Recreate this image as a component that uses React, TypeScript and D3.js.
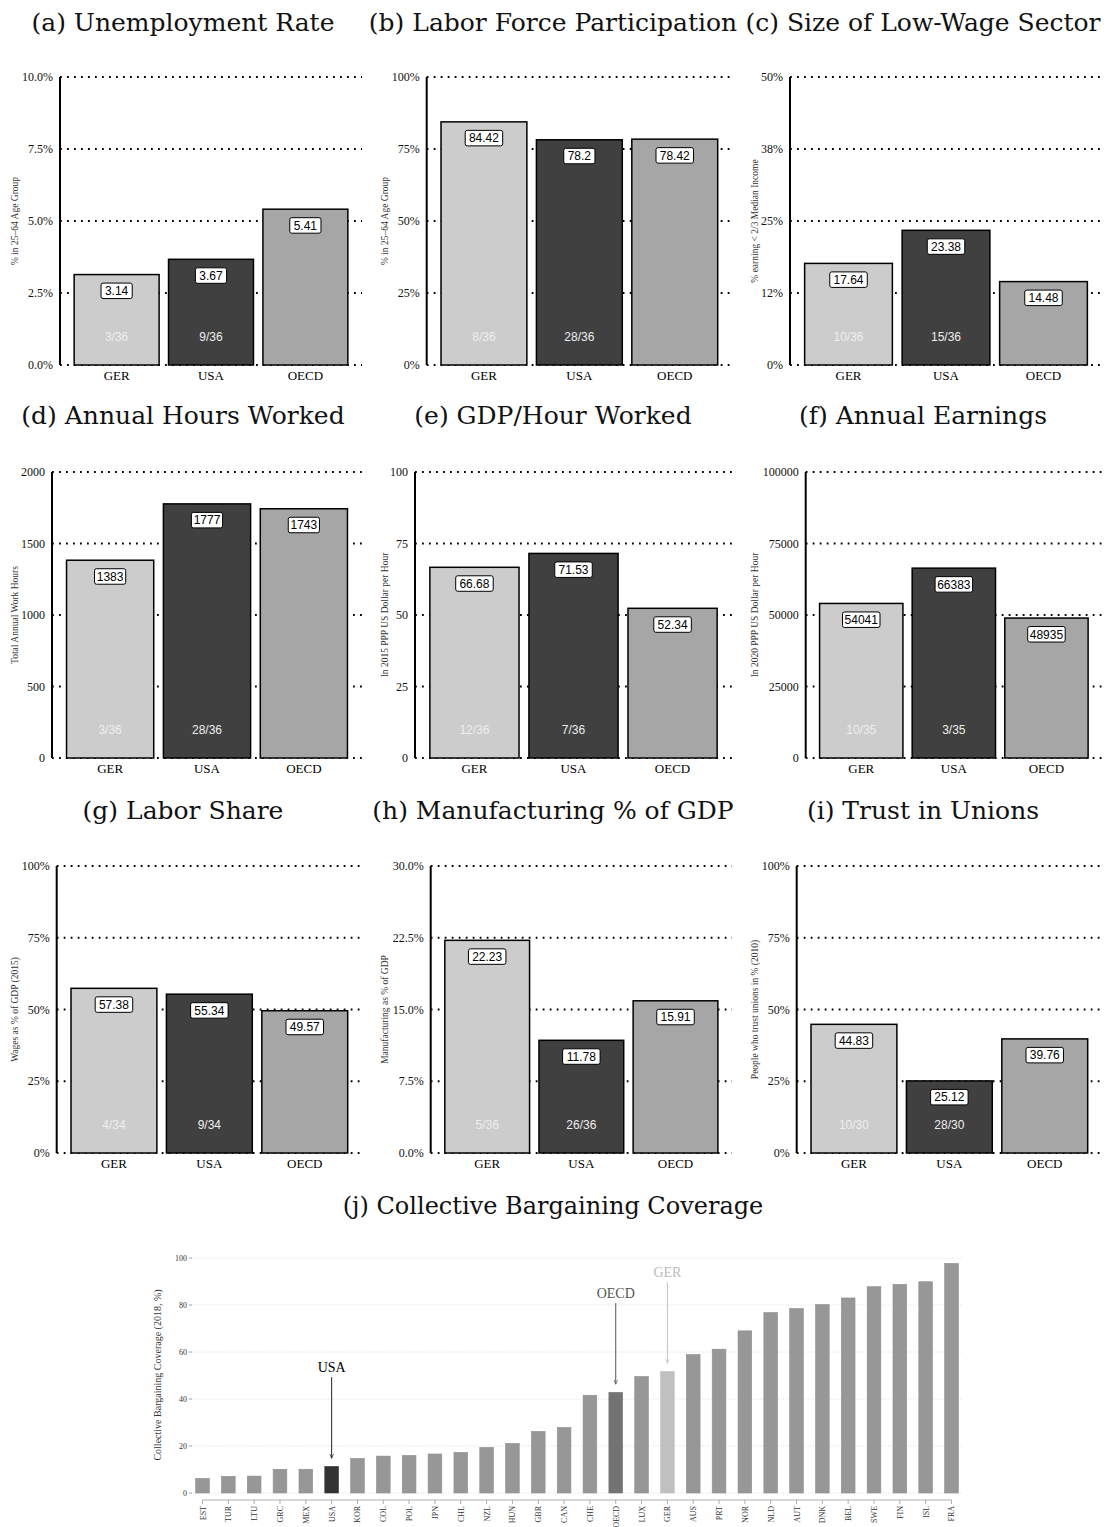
import * as d3 from 'd3';

// small multiples: GER vs USA vs OECD
const countries = ['GER', 'USA', 'OECD'];
const barColors = ['#cccccc', '#404040', '#a6a6a6'];

const panelTitles = [
  '(a) Unemployment Rate',
  '(b) Labor Force Participation',
  '(c) Size of Low-Wage Sector',
  '(d) Annual Hours Worked',
  '(e) GDP/Hour Worked',
  '(f) Annual Earnings',
  '(g) Labor Share',
  '(h) Manufacturing % of GDP',
  '(i) Trust in Unions',
];

const yTitles = [
  '% in 25–64 Age Group',
  '% in 25–64 Age Group',
  '% earning < 2/3 Median Income',
  'Total Annual Work Hours',
  'In 2015 PPP US Dollar per Hour',
  'In 2020 PPP US Dollar per Hour',
  'Wages as % of GDP (2015)',
  'Manufacturing as % of GDP',
  'People who trust unions in % (2010)',
];

const panelValues = [
  [3.14, 3.67, 5.41],
  [84.42, 78.2, 78.42],
  [17.64, 23.38, 14.48],
  [1383, 1777, 1743],
  [66.68, 71.53, 52.34],
  [54041, 66383, 48935],
  [57.38, 55.34, 49.57],
  [22.23, 11.78, 15.91],
  [44.83, 25.12, 39.76],
];

// OECD rank of GER and USA
const panelRanks = [
  ['3/36', '9/36'],
  ['8/36', '28/36'],
  ['10/36', '15/36'],
  ['3/36', '28/36'],
  ['12/36', '7/36'],
  ['10/35', '3/35'],
  ['4/34', '9/34'],
  ['5/36', '26/36'],
  ['10/30', '28/30'],
];

const yMax = [10, 100, 50, 2000, 100, 100000, 100, 30, 100];

const tickLabels = [
  ['0.0%', '2.5%', '5.0%', '7.5%', '10.0%'],
  ['0%', '25%', '50%', '75%', '100%'],
  ['0%', '12%', '25%', '38%', '50%'],
  ['0', '500', '1000', '1500', '2000'],
  ['0', '25', '50', '75', '100'],
  ['0', '25000', '50000', '75000', '100000'],
  ['0%', '25%', '50%', '75%', '100%'],
  ['0.0%', '7.5%', '15.0%', '22.5%', '30.0%'],
  ['0%', '25%', '50%', '75%', '100%'],
];

// bottom panel: collective bargaining coverage 2018
const cbCountries = [
  'EST', 'TUR', 'LTU', 'GRC', 'MEX', 'USA', 'KOR', 'COL', 'POL', 'JPN', 'CHL',
  'NZL', 'HUN', 'GBR', 'CAN', 'CHE', 'OECD', 'LUX', 'GER', 'AUS', 'PRT', 'NOR',
  'NLD', 'AUT', 'DNK', 'BEL', 'SWE', 'FIN', 'ISL', 'FRA',
];
const cbValues = [
  6.2, 7.1, 7.2, 10.1, 10.1, 11.3, 14.7, 15.7, 16.0, 16.6, 17.3,
  19.4, 21.1, 26.2, 27.9, 41.6, 42.8, 49.6, 51.7, 58.9, 61.2, 69.0,
  76.8, 78.5, 80.2, 83.0, 87.8, 88.8, 89.9, 97.7,
];
const cbTicks = [0, 20, 40, 60, 80, 100];
const cbHighlights = [
  { key: 'USA', color: '#333333', text: '#000000', arrow: '#222222' },
  { key: 'OECD', color: '#737373', text: '#555555', arrow: '#555555' },
  { key: 'GER', color: '#c0c0c0', text: '#bbbbbb', arrow: '#c4c4c4' },
];

// layout
const W = 1107;
const H = 1527;
const colX = [0, 370, 740];
const axisOffset = [60, 56.7, 50, 52, 45, 65.7, 56.7, 60.7, 56.7];
const rowTop = [77, 472, 866];
const rowBottom = [365, 758, 1153];
const titleY = [31, 424, 819];
const serif = '"Liberation Serif", "Times New Roman", serif';
const sans = '"Liberation Sans", Arial, sans-serif';
const titleFont = '"DejaVu Serif", serif';

function SmallPanel({ i }: { i: number }) {
  const row = Math.floor(i / 3);
  const col = i % 3;
  const x0 = colX[col] + axisOffset[i];
  const x1 = colX[col] + 362;
  const top = rowTop[row];
  const bottom = rowBottom[row];

  const x = d3.scaleBand<string>().domain(countries).range([x0, x1]).paddingInner(0.1).paddingOuter(0.15);
  const y = d3.scaleLinear().domain([0, yMax[i]]).range([bottom, top]);
  const ticks = tickLabels[i].map((_, k) => (yMax[i] * k) / 4);
  const vals = panelValues[i];

  return (
    <g>
      <text
        x={colX[col] + 183}
        y={titleY[row]}
        textAnchor="middle"
        fontFamily={titleFont}
        fontSize={25}
        fill="#111"
      >
        {panelTitles[i]}
      </text>
      {ticks.map((t, k) => (
        <g key={k}>
          <line
            x1={x0}
            x2={x1}
            y1={y(t)}
            y2={y(t)}
            stroke="#000"
            strokeWidth={1.8}
            strokeDasharray="1.8,5.2"
          />
          <text
            x={x0 - 7}
            y={y(t)}
            dy="0.35em"
            textAnchor="end"
            fontFamily={serif}
            fontSize={12}
            fill="#111"
          >
            {tickLabels[i][k]}
          </text>
        </g>
      ))}
      {vals.map((v, k) => {
        const bx = x(countries[k])!;
        const bw = x.bandwidth();
        const label = String(v);
        const lw = label.length * 6.3 + 6;
        return (
          <g key={countries[k]}>
            <rect
              x={bx}
              y={y(v)}
              width={bw}
              height={bottom - y(v)}
              fill={barColors[k]}
              stroke="#000"
              strokeWidth={1.5}
            />
            <rect
              x={bx + bw / 2 - lw / 2}
              y={y(v) + 8.5}
              width={lw}
              height={15.5}
              rx={2}
              fill="#fff"
              stroke="#000"
              strokeWidth={1}
            />
            <text
              x={bx + bw / 2}
              y={y(v) + 8.5 + 12}
              textAnchor="middle"
              fontFamily={sans}
              fontSize={12}
              fill="#000"
            >
              {label}
            </text>
            {k < 2 && (
              <text
                x={bx + bw / 2}
                y={bottom - 24}
                textAnchor="middle"
                fontFamily={sans}
                fontSize={12}
                fill="#eeeeee"
              >
                {panelRanks[i][k]}
              </text>
            )}
            <text
              x={bx + bw / 2}
              y={bottom + 14.5}
              textAnchor="middle"
              fontFamily={serif}
              fontSize={13}
              fill="#000"
            >
              {countries[k]}
            </text>
          </g>
        );
      })}
      <line x1={x0} x2={x0} y1={top} y2={bottom} stroke="#000" strokeWidth={2} />
      <text
        transform={`translate(${colX[col] + 15},${(top + bottom) / 2}) rotate(-90)`}
        dy="0.35em"
        textAnchor="middle"
        fontFamily={serif}
        fontSize={9.5}
        fill="#333"
      >
        {yTitles[i]}
      </text>
    </g>
  );
}

function BargainingPanel() {
  const x = d3.scaleBand<string>().domain(cbCountries).range([190.5, 963.5]).paddingInner(0.47).paddingOuter(0.2);
  const y = d3.scaleLinear().domain([0, 100]).range([1493, 1258]);
  const left = 193;
  const right = 962;
  const xFirst = x(cbCountries[0])! + x.bandwidth() / 2;
  const xLast = x(cbCountries[cbCountries.length - 1])! + x.bandwidth() / 2;
  const axisY = 1500;

  return (
    <g>
      <defs>
        <marker id="arrow" viewBox="0 0 10 10" refX="9" refY="5" markerWidth="5" markerHeight="5" orient="auto">
          <path d="M0,1 L9,5 L0,9" fill="none" stroke="context-stroke" strokeWidth={1.4} />
        </marker>
      </defs>
      <text x={553} y={1214} textAnchor="middle" fontFamily={titleFont} fontSize={24} fill="#111">
        (j) Collective Bargaining Coverage
      </text>
      {cbTicks.map((t) => (
        <g key={t}>
          <line x1={left} x2={right} y1={y(t)} y2={y(t)} stroke="#d4d4d4" strokeWidth={0.8} strokeDasharray="1,1.5" />
          <line x1={left - 4} x2={left - 1} y1={y(t)} y2={y(t)} stroke="#888" strokeWidth={0.8} />
          <text x={left - 6} y={y(t)} dy="0.35em" textAnchor="end" fontFamily={serif} fontSize={8} fill="#333">
            {t}
          </text>
        </g>
      ))}
      {cbCountries.map((c, k) => {
        const hl = cbHighlights.find((h) => h.key === c);
        const cx = x(c)! + x.bandwidth() / 2;
        return (
          <g key={c}>
            <rect
              x={x(c)}
              y={y(cbValues[k])}
              width={x.bandwidth()}
              height={y(0) - y(cbValues[k])}
              fill={hl ? hl.color : '#979797'}
              stroke={hl ? hl.color : '#8f8f8f'}
              strokeWidth={0.6}
            />
            <line x1={cx} x2={cx} y1={axisY} y2={axisY + 4} stroke="#999" strokeWidth={0.8} />
            <text
              transform={`translate(${cx + 3},${axisY + 6}) rotate(-90)`}
              textAnchor="end"
              fontFamily={serif}
              fontSize={8}
              fill="#333"
            >
              {c}
            </text>
            {hl && (
              <g>
                <line
                  x1={cx}
                  x2={cx}
                  y1={y(cbValues[k] + 38)}
                  y2={y(cbValues[k] + 3.5)}
                  stroke={hl.arrow}
                  strokeWidth={1}
                  markerEnd="url(#arrow)"
                />
                <text
                  x={cx}
                  y={y(cbValues[k] + 38) - 5}
                  textAnchor="middle"
                  fontFamily={serif}
                  fontSize={14}
                  fill={hl.text}
                >
                  {c}
                </text>
              </g>
            )}
          </g>
        );
      })}
      <line x1={xFirst} x2={xLast} y1={axisY} y2={axisY} stroke="#999" strokeWidth={0.8} />
      <text
        transform={`translate(157,1375) rotate(-90)`}
        dy="0.35em"
        textAnchor="middle"
        fontFamily={serif}
        fontSize={10}
        fill="#333"
      >
        Collective Bargaining Coverage (2018, %)
      </text>
    </g>
  );
}

export default function App() {
  return (
    <svg
      width={W}
      height={H}
      style={{ position: 'absolute', left: 0, top: 0, background: '#fff' }}
    >
      <rect width={W} height={H} fill="#fff" />
      {panelTitles.map((_, i) => (
        <SmallPanel key={i} i={i} />
      ))}
      <BargainingPanel />
    </svg>
  );
}
